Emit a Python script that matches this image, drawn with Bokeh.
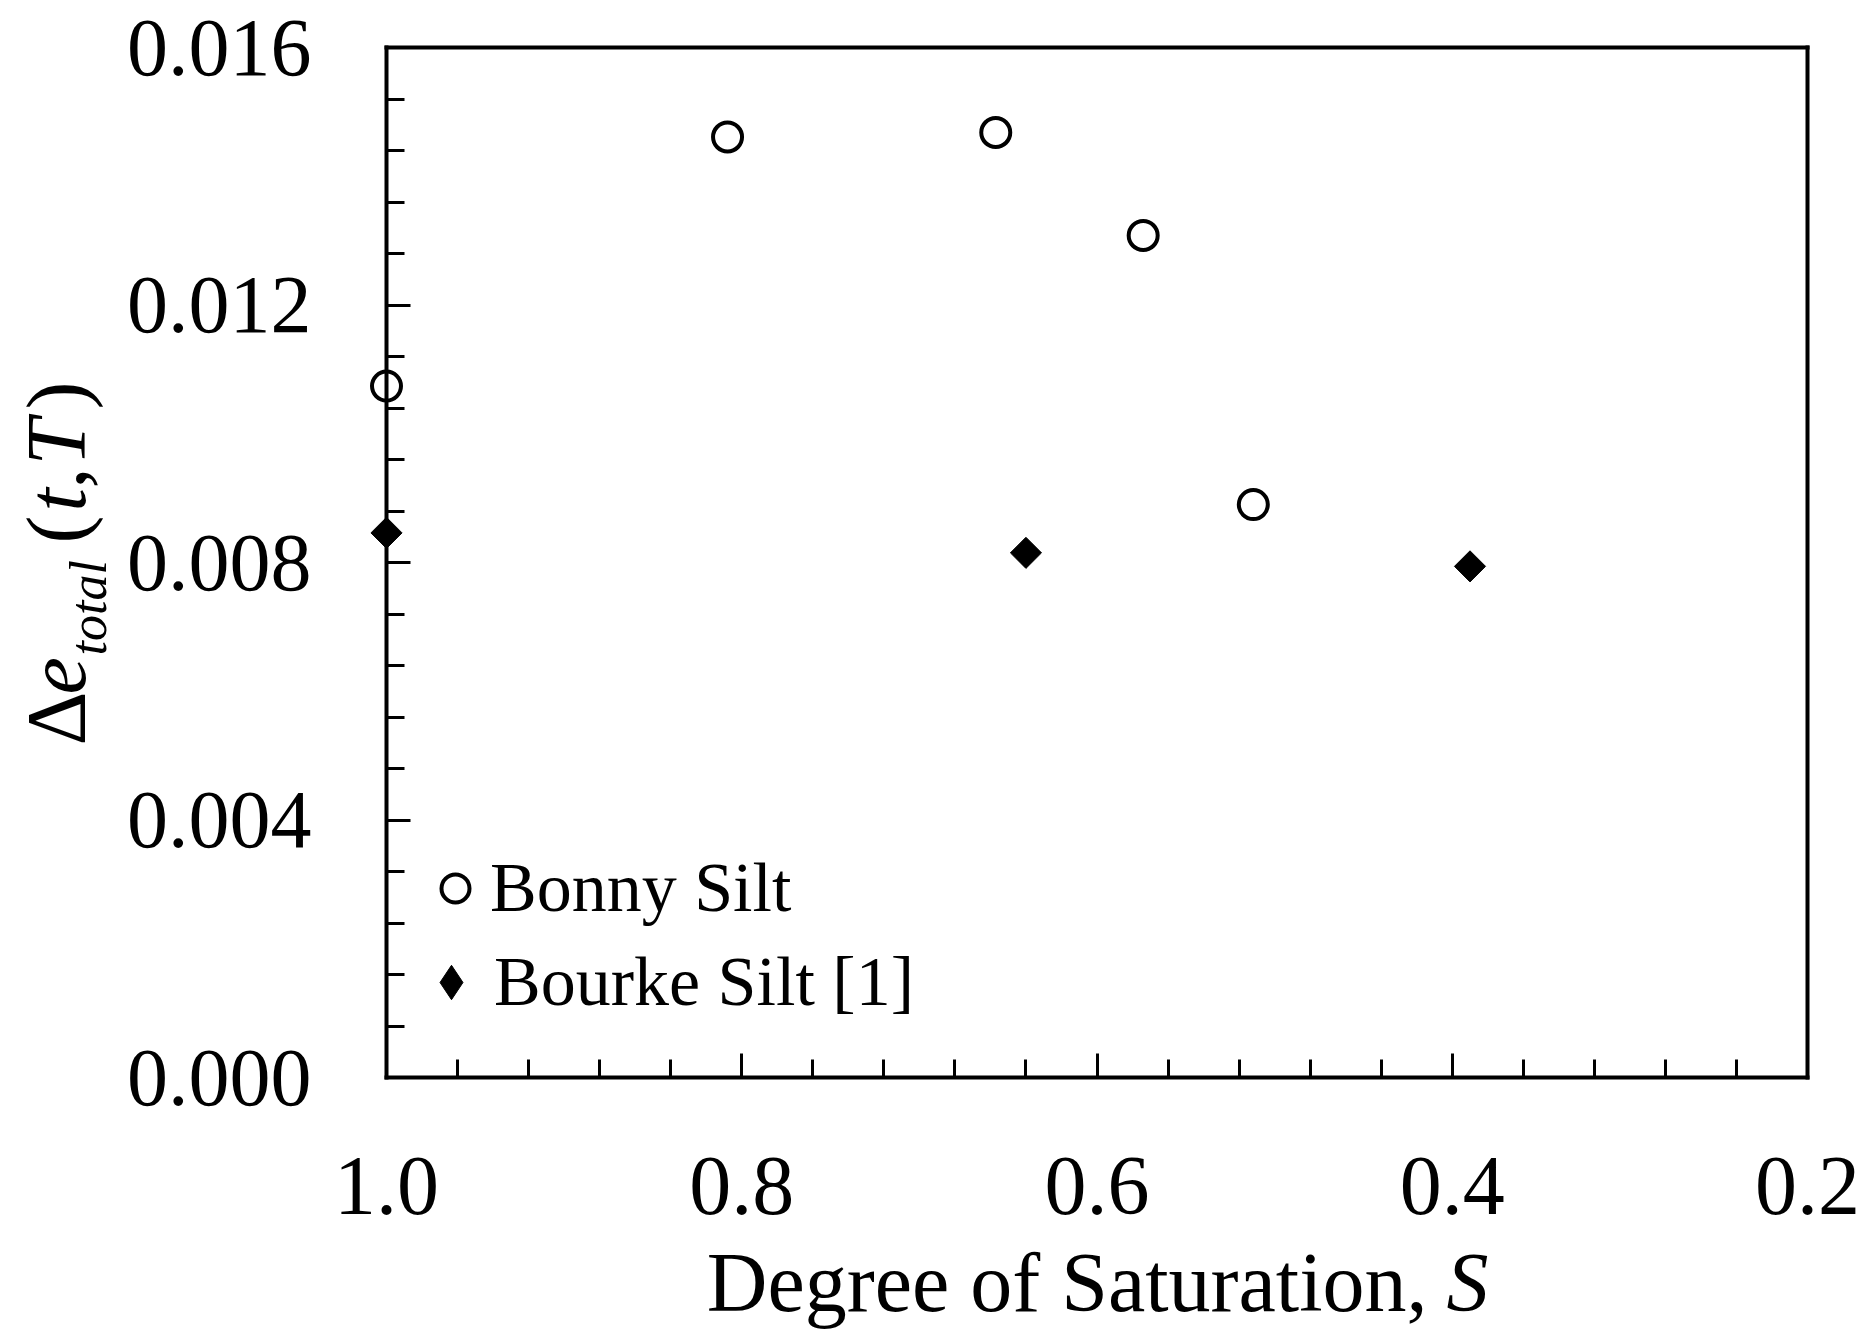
import numpy as np
from bokeh.plotting import figure
from bokeh.models import (Range1d, FixedTicker, PrintfTickFormatter, Label,
                          Legend, LegendItem, LinearAxis)
from bokeh.embed import file_html
from bokeh.resources import INLINE

# ---- data ----
bonny_s = [1.0, 0.808, 0.657, 0.574, 0.512]
bonny_de = [0.01074, 0.01461, 0.01468, 0.01308, 0.0089]
bourke_s = [1.0, 0.640, 0.390]
bourke_de = [0.00846, 0.00815, 0.00794]
x_ticks = [1.0, 0.8, 0.6, 0.4, 0.2]
y_ticks = [0.000, 0.004, 0.008, 0.012, 0.016]
series_names = ["Bonny Silt", "Bourke Silt [1]"]

FONT = "Liberation Serif"
W, H = 1864, 1331
# pixel box of the axes rectangle
FL, FR, FT, FB = 386, 1807, 47, 1077


def minors(ticks, n=5):
    out = []
    for a, b in zip(ticks[:-1], ticks[1:]):
        out.extend(np.linspace(a, b, n + 1)[1:-1].tolist())
    return out


# ranges chosen so the whole canvas is the plotting frame and the axes
# rectangle lands on the pixel box above
xpp = (x_ticks[0] - x_ticks[-1]) / (FR - FL)
ypp = (y_ticks[-1] - y_ticks[0]) / (FB - FT)
x_range = Range1d(start=x_ticks[0] + FL * xpp, end=x_ticks[0] - (W - FL) * xpp)
y_range = Range1d(start=y_ticks[0] - (H - FB) * ypp, end=y_ticks[-1] + FT * ypp)

p = figure(width=W, height=H, output_backend="svg", toolbar_location=None,
           x_range=x_range, y_range=y_range, min_border=0,
           x_axis_type=None, y_axis_type=None)
p.background_fill_color = "white"
p.border_fill_color = "white"
p.outline_line_color = None
p.grid.visible = False

xb = (min(x_ticks), max(x_ticks))
yb = (min(y_ticks), max(y_ticks))


def style_axis(ax, ticks, fmt, standoff, font_px=84, show=True):
    ax.axis_line_color = "black"
    ax.axis_line_width = 4
    ax.axis_line_cap = "square"
    if show:
        ax.ticker = FixedTicker(ticks=ticks, minor_ticks=minors(ticks))
        ax.formatter = PrintfTickFormatter(format=fmt)
    else:
        ax.ticker = FixedTicker(ticks=[], minor_ticks=[])
    ax.major_tick_line_color = "black"
    ax.major_tick_line_width = 3
    ax.minor_tick_line_color = "black"
    ax.minor_tick_line_width = 3
    ax.major_tick_in = 24
    ax.major_tick_out = 0
    ax.minor_tick_in = 18
    ax.minor_tick_out = 0
    ax.major_label_text_font = FONT
    ax.major_label_text_font_size = f"{font_px}px"
    ax.major_label_text_color = "black"
    ax.major_label_standoff = standoff


xaxis = LinearAxis(fixed_location=y_ticks[0], bounds=xb)
style_axis(xaxis, x_ticks, "%.1f", 80)
p.add_layout(xaxis, "below")

yaxis = LinearAxis(fixed_location=x_ticks[0], bounds=yb)
style_axis(yaxis, y_ticks, "%.3f", 75, font_px=82)
p.add_layout(yaxis, "left")

top_axis = LinearAxis(fixed_location=y_ticks[-1], bounds=xb)
style_axis(top_axis, x_ticks, "%.1f", 0, show=False)
p.add_layout(top_axis, "above")

right_axis = LinearAxis(fixed_location=x_ticks[-1], bounds=yb)
style_axis(right_axis, y_ticks, "%.3f", 0, show=False)
p.add_layout(right_axis, "right")

r_bonny = p.scatter(bonny_s, bonny_de, marker="circle", size=29,
                    fill_color="white", line_color="black", line_width=4)
# diamond-shaped key for the legend (legend keys ignore marker rotation);
# drawn tiny, underneath the rotated squares
r_bourke_key = p.scatter(bourke_s, bourke_de, marker="diamond", size=2,
                         fill_color="black", line_color="black", line_width=1)
r_bourke = p.scatter(bourke_s, bourke_de, marker="square", angle=np.pi / 4,
                     size=22, fill_color="black", line_color="black",
                     line_width=1)

common = dict(label_standoff=0, padding=0, margin=0, spacing=0,
              border_line_color=None, background_fill_alpha=0,
              label_text_font=FONT, label_text_font_size="70px",
              label_text_color="black")
leg1 = Legend(items=[LegendItem(label=series_names[0], renderers=[r_bonny])],
              location=(420, H - 928), glyph_width=70, glyph_height=76,
              label_height=76, **common)
leg2 = Legend(items=[LegendItem(label=series_names[1],
                                renderers=[r_bourke_key])],
              location=(408, H - 1025), glyph_width=86, glyph_height=86,
              label_height=86, **common)
p.add_layout(leg1)
p.add_layout(leg2)


def add_label(text, x, y, size, style="normal", angle=0.0, align="left"):
    p.add_layout(Label(x=x, y=y, x_units="screen", y_units="screen",
                       text=text, angle=angle, text_font=FONT,
                       text_font_size=f"{size}px", text_font_style=style,
                       text_align=align, text_baseline="alphabetic",
                       text_color="black"))


# x-axis title
add_label("Degree of Saturation,", 1427, 49, 84, align="right")
add_label("S", 1446, 49, 84, style="italic")

# y-axis title, rotated, built from pieces
y0 = H - 745
xm, xs = 56, 88
rot = np.pi / 2
add_label("\u0394", xm, y0, 84, angle=rot)
add_label("e", xm, y0 + 51, 84, style="italic", angle=rot)
add_label("total", xs, y0 + 90, 52, style="italic", angle=rot)
add_label("(", xm, y0 + 202, 84, angle=rot)
add_label("t", xm, y0 + 234, 84, style="italic", angle=rot)
add_label(",", xm, y0 + 257, 84, angle=rot)
add_label("T", xm, y0 + 280, 84, style="italic", angle=rot)
add_label(")", xm, y0 + 336, 84, angle=rot)

open("out.html", "w").write(file_html(p, INLINE))
